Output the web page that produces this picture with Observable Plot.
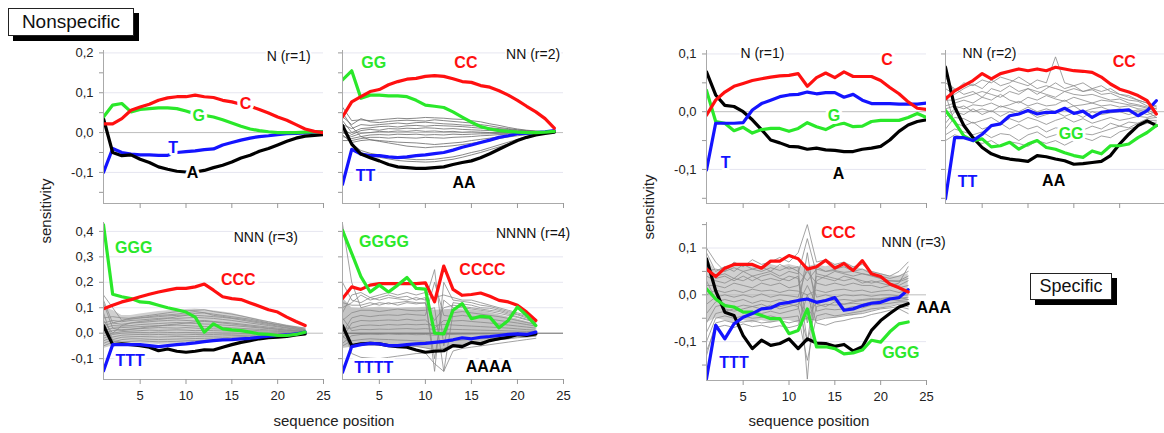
<!DOCTYPE html>
<html><head><meta charset="utf-8">
<script src="https://cdn.jsdelivr.net/npm/d3@7"></script>
<script src="https://cdn.jsdelivr.net/npm/@observablehq/plot@0.6"></script>
<style>
html,body{margin:0;padding:0;background:#fff;}
#root{position:relative;width:1164px;height:433px;overflow:hidden;background:#fff;font-family:"Liberation Sans",Arial,Helvetica,sans-serif;color:#111;}
.pl{position:absolute;}
.box{position:absolute;border:1px solid #222;background:#fff;box-shadow:5px 5px 0 #000;display:flex;align-items:center;justify-content:center;color:#111;}
.lab{position:absolute;font-size:15px;color:#222;white-space:nowrap;}
</style>
</head><body><div id="root"></div>
<script>
// ---------- DATA ----------
// Nonspecific, N (r=1), positions 1..25
const n1_A = [0.035,-0.05,-0.058,-0.056,-0.067,-0.075,-0.086,-0.092,-0.097,-0.099,-0.099,-0.095,-0.088,-0.082,-0.074,-0.064,-0.057,-0.047,-0.04,-0.031,-0.022,-0.014,-0.009,-0.007,-0.005];
const n1_C = [0.022,0.022,0.035,0.056,0.064,0.071,0.081,0.087,0.09,0.09,0.094,0.09,0.088,0.081,0.077,0.071,0.066,0.058,0.049,0.039,0.031,0.02,0.009,0.003,0.0];
const n1_G = [0.039,0.069,0.073,0.052,0.058,0.06,0.062,0.062,0.06,0.054,0.047,0.043,0.039,0.032,0.024,0.016,0.009,0.005,0.002,0.0,0.0,0.0,0.001,0.002,0.002];
const n1_T = [-0.1,-0.04,-0.05,-0.054,-0.056,-0.056,-0.057,-0.057,-0.05,-0.048,-0.046,-0.043,-0.041,-0.031,-0.025,-0.019,-0.014,-0.01,-0.008,-0.005,-0.003,-0.002,-0.001,0.001,0.002];
// Nonspecific, NN (r=2), positions 1..24
const n2_AA = [0.018,-0.029,-0.054,-0.063,-0.071,-0.08,-0.086,-0.088,-0.09,-0.09,-0.088,-0.086,-0.08,-0.075,-0.071,-0.063,-0.053,-0.042,-0.031,-0.02,-0.012,-0.006,-0.002,0.001];
const n2_CC = [0.039,0.077,0.09,0.103,0.108,0.12,0.128,0.134,0.136,0.141,0.143,0.141,0.135,0.128,0.126,0.118,0.114,0.105,0.094,0.081,0.066,0.052,0.035,0.011];
const n2_GG = [0.132,0.155,0.086,0.094,0.094,0.092,0.092,0.09,0.081,0.069,0.066,0.063,0.052,0.039,0.026,0.015,0.009,0.005,0.003,0.001,0.0,0.0,0.001,0.003];
const n2_TT = [-0.13,-0.042,-0.054,-0.058,-0.058,-0.061,-0.063,-0.061,-0.058,-0.056,-0.053,-0.05,-0.044,-0.037,-0.031,-0.025,-0.019,-0.012,-0.008,-0.003,-0.002,0.0,0.002,0.005];
const n2_other = [
 [0.064,0.03,0.032,0.03,0.032,0.034,0.036,0.035,0.036,0.038,0.037,0.036,0.034,0.033,0.03,0.027,0.022,0.018,0.013,0.009,0.006,0.004,0.002,0.001],
 [0.04,0.02,0.035,0.027,0.025,0.028,0.03,0.031,0.03,0.029,0.032,0.03,0.028,0.026,0.024,0.02,0.017,0.013,0.01,0.007,0.005,0.003,0.002,0.001],
 [0.02,0.01,0.02,0.018,0.02,0.022,0.024,0.022,0.025,0.026,0.024,0.022,0.021,0.019,0.018,0.015,0.012,0.01,0.008,0.006,0.004,0.003,0.002,0.001],
 [0.03,0.0,0.01,0.012,0.015,0.016,0.014,0.017,0.018,0.016,0.018,0.017,0.016,0.015,0.013,0.011,0.01,0.008,0.006,0.004,0.003,0.002,0.001,0.001],
 [0.01,-0.005,0.005,0.008,0.006,0.01,0.009,0.011,0.01,0.012,0.011,0.009,0.01,0.008,0.007,0.006,0.005,0.004,0.003,0.002,0.001,0.001,0.0,0.001],
 [0.0,-0.01,-0.002,0.0,0.003,0.002,0.004,0.003,0.005,0.003,0.004,0.002,0.003,0.001,0.002,0.001,0.0,0.0,0.0,0.0,0.0,0.0,0.0,0.001],
 [-0.01,-0.015,-0.01,-0.006,-0.005,-0.006,-0.004,-0.005,-0.004,-0.006,-0.005,-0.006,-0.004,-0.005,-0.004,-0.003,-0.003,-0.002,-0.002,-0.001,-0.001,0.0,0.0,0.001],
 [-0.02,-0.02,-0.015,-0.012,-0.012,-0.014,-0.012,-0.013,-0.014,-0.012,-0.013,-0.014,-0.012,-0.011,-0.01,-0.008,-0.007,-0.005,-0.004,-0.003,-0.002,-0.001,0.0,0.001],
 [0.05,0.015,-0.01,-0.018,-0.02,-0.022,-0.024,-0.025,-0.026,-0.028,-0.03,-0.028,-0.026,-0.024,-0.02,-0.017,-0.014,-0.011,-0.008,-0.005,-0.003,-0.002,-0.001,0.0],
 [0.005,-0.025,-0.02,-0.018,-0.022,-0.026,-0.03,-0.034,-0.036,-0.038,-0.036,-0.035,-0.033,-0.03,-0.027,-0.023,-0.019,-0.015,-0.011,-0.008,-0.005,-0.003,-0.001,0.0],
 [0.015,-0.03,-0.05,-0.058,-0.062,-0.066,-0.07,-0.072,-0.073,-0.074,-0.073,-0.07,-0.067,-0.062,-0.056,-0.05,-0.043,-0.036,-0.028,-0.02,-0.012,-0.006,-0.002,0.001],
 [-0.005,-0.028,-0.045,-0.052,-0.056,-0.06,-0.063,-0.066,-0.068,-0.068,-0.067,-0.064,-0.061,-0.056,-0.05,-0.045,-0.038,-0.031,-0.024,-0.017,-0.01,-0.005,-0.001,0.001]
];
// Nonspecific, NNN (r=3), positions 1..23
const n3_AAA = [0.03,-0.045,-0.042,-0.045,-0.049,-0.055,-0.069,-0.062,-0.071,-0.075,-0.071,-0.065,-0.066,-0.055,-0.045,-0.036,-0.029,-0.022,-0.018,-0.016,-0.013,-0.007,-0.003];
const n3_CCC = [0.096,0.11,0.123,0.132,0.143,0.153,0.162,0.169,0.176,0.176,0.182,0.193,0.169,0.143,0.136,0.132,0.119,0.106,0.092,0.083,0.063,0.046,0.03];
const n3_GGG = [0.426,0.153,0.143,0.136,0.123,0.12,0.11,0.1,0.092,0.083,0.063,0.004,0.037,0.017,0.013,0.01,0.004,-0.003,-0.005,-0.009,-0.009,-0.005,0.004];
const n3_TTT = [-0.148,-0.045,-0.045,-0.045,-0.045,-0.049,-0.053,-0.049,-0.045,-0.042,-0.038,-0.033,-0.029,-0.026,-0.025,-0.022,-0.02,-0.016,-0.012,-0.009,-0.007,-0.003,0.004];
const n3_bandHi = [0.1,0.09,0.07,0.07,0.075,0.08,0.085,0.088,0.09,0.093,0.095,0.092,0.088,0.083,0.078,0.07,0.062,0.054,0.046,0.038,0.032,0.026,0.02];
const n3_bandLo = [-0.06,-0.05,-0.042,-0.04,-0.04,-0.042,-0.044,-0.043,-0.042,-0.04,-0.038,-0.036,-0.034,-0.032,-0.03,-0.027,-0.024,-0.02,-0.017,-0.014,-0.012,-0.01,-0.008];
const n3_other = [
 [0.15,0.1,0.05,0.06,0.065,0.07,0.075,0.08,0.085,0.088,0.09,0.092,0.085,0.08,0.075,0.068,0.06,0.052,0.045,0.038,0.03,0.025,0.02],
 [0.13,0.04,0.05,0.055,0.06,0.065,0.07,0.072,0.075,0.08,0.085,0.08,0.075,0.07,0.065,0.06,0.055,0.048,0.04,0.034,0.028,0.022,0.016],
 [0.06,0.065,0.06,0.058,0.06,0.062,0.065,0.068,0.07,0.072,0.07,0.068,0.065,0.062,0.058,0.052,0.046,0.04,0.034,0.028,0.022,0.017,0.012],
 [0.04,0.05,0.045,0.05,0.052,0.055,0.058,0.06,0.058,0.06,0.062,0.06,0.058,0.054,0.05,0.045,0.04,0.035,0.03,0.025,0.02,0.015,0.01],
 [0.03,0.04,0.035,0.04,0.042,0.045,0.048,0.05,0.052,0.05,0.048,0.05,0.046,0.043,0.04,0.036,0.032,0.028,0.024,0.02,0.016,0.012,0.008],
 [0.02,0.03,0.028,0.03,0.034,0.036,0.038,0.04,0.042,0.04,0.038,0.036,0.035,0.032,0.03,0.027,0.024,0.021,0.018,0.015,0.012,0.01,0.008],
 [0.01,0.02,0.022,0.024,0.026,0.028,0.03,0.03,0.032,0.03,0.028,0.026,0.025,0.023,0.021,0.019,0.017,0.015,0.013,0.011,0.009,0.007,0.005],
 [0.0,0.01,0.014,0.016,0.018,0.02,0.022,0.021,0.02,0.022,0.02,0.018,0.017,0.016,0.015,0.013,0.012,0.01,0.009,0.007,0.006,0.005,0.004],
 [-0.01,0.0,0.006,0.008,0.01,0.012,0.011,0.012,0.013,0.012,0.01,0.011,0.01,0.009,0.008,0.007,0.006,0.005,0.004,0.004,0.003,0.002,0.002],
 [-0.02,-0.005,0.0,0.002,0.003,0.002,0.004,0.003,0.002,0.003,0.002,0.001,0.002,0.001,0.001,0.0,0.0,0.0,0.0,0.0,0.0,0.0,0.0],
 [-0.03,-0.015,-0.008,-0.006,-0.005,-0.006,-0.005,-0.006,-0.007,-0.006,-0.005,-0.006,-0.005,-0.004,-0.004,-0.003,-0.003,-0.002,-0.002,-0.002,-0.001,-0.001,0.0],
 [-0.04,-0.025,-0.016,-0.014,-0.013,-0.014,-0.015,-0.014,-0.013,-0.014,-0.013,-0.012,-0.012,-0.011,-0.01,-0.009,-0.008,-0.007,-0.006,-0.005,-0.004,-0.003,-0.002],
 [-0.05,-0.035,-0.025,-0.022,-0.022,-0.024,-0.025,-0.024,-0.023,-0.022,-0.021,-0.02,-0.019,-0.018,-0.016,-0.014,-0.012,-0.011,-0.009,-0.008,-0.006,-0.005,-0.004],
 [0.08,-0.03,-0.035,-0.032,-0.03,-0.032,-0.034,-0.033,-0.032,-0.03,-0.029,-0.028,-0.026,-0.024,-0.022,-0.02,-0.018,-0.015,-0.013,-0.011,-0.009,-0.007,-0.005],
 [0.05,0.0,0.03,0.04,0.046,0.05,0.054,0.058,0.065,0.07,0.078,0.08,0.07,0.066,0.06,0.056,0.05,0.044,0.038,0.032,0.026,0.02,0.014],
 [0.12,0.02,0.01,0.015,0.02,0.025,0.028,0.033,0.036,0.04,0.044,0.046,0.044,0.04,0.036,0.032,0.028,0.024,0.02,0.016,0.012,0.009,0.006]
];
// Nonspecific, NNNN (r=4), positions 1..22
const n4_AAAA = [0.03,-0.049,-0.042,-0.04,-0.042,-0.049,-0.053,-0.055,-0.066,-0.075,-0.071,-0.069,-0.049,-0.053,-0.036,-0.042,-0.029,-0.022,-0.016,-0.005,-0.009,-0.003];
const n4_CCCC = [0.136,0.182,0.172,0.189,0.195,0.195,0.195,0.195,0.195,0.198,0.123,0.264,0.172,0.149,0.152,0.158,0.145,0.129,0.123,0.11,0.083,0.05];
const n4_GGGG = [0.404,0.314,0.222,0.162,0.189,0.162,0.189,0.219,0.176,0.173,0.0,-0.003,0.09,0.116,0.057,0.066,0.063,0.021,0.05,0.103,0.07,0.03];
const n4_TTTT = [-0.154,-0.053,-0.045,-0.04,-0.042,-0.049,-0.049,-0.045,-0.042,-0.04,-0.036,-0.032,-0.026,-0.018,-0.022,-0.016,-0.013,-0.009,-0.005,-0.003,-0.005,0.004];
const n4_bandHi = [0.14,0.1,0.098,0.1,0.102,0.1,0.098,0.1,0.1,0.102,0.09,0.092,0.094,0.092,0.09,0.086,0.08,0.072,0.064,0.056,0.046,0.036];
const n4_bandLo = [-0.06,-0.055,-0.05,-0.048,-0.048,-0.05,-0.052,-0.052,-0.055,-0.06,-0.07,-0.068,-0.05,-0.048,-0.04,-0.04,-0.034,-0.03,-0.026,-0.02,-0.018,-0.015];
const n4_other = [
 [0.43,0.2,0.1,0.11,0.12,0.115,0.12,0.125,0.12,0.118,0.05,0.1,0.11,0.105,0.1,0.095,0.09,0.085,0.075,0.065,0.055,0.045],
 [0.2,0.13,0.12,0.14,0.13,0.14,0.135,0.13,0.14,0.13,0.25,-0.05,0.12,0.115,0.11,0.1,0.098,0.09,0.08,0.072,0.06,0.05],
 [0.1,0.12,0.15,0.13,0.14,0.15,0.14,0.145,0.13,0.14,-0.15,0.2,0.13,0.125,0.12,0.11,0.105,0.095,0.085,0.075,0.065,0.05],
 [0.05,0.08,0.09,0.09,0.085,0.09,0.095,0.09,0.088,0.09,0.1,-0.15,0.08,0.085,0.08,0.075,0.07,0.065,0.058,0.05,0.042,0.035],
 [0.0,0.06,0.07,0.065,0.07,0.072,0.07,0.075,0.072,0.07,0.2,0.07,0.065,0.07,0.065,0.06,0.056,0.05,0.045,0.04,0.034,0.028],
 [-0.02,0.04,0.05,0.048,0.05,0.052,0.05,0.055,0.05,0.052,0.02,0.05,0.048,0.05,0.046,0.043,0.04,0.036,0.032,0.028,0.024,0.02],
 [0.02,0.02,0.03,0.032,0.03,0.034,0.032,0.035,0.033,0.035,0.03,0.034,0.032,0.03,0.028,0.026,0.024,0.022,0.02,0.017,0.014,0.012],
 [0.06,0.01,0.015,0.014,0.016,0.015,0.017,0.018,0.016,0.018,0.015,0.016,0.015,0.014,0.013,0.012,0.011,0.01,0.009,0.008,0.007,0.006],
 [-0.04,-0.01,-0.005,-0.004,-0.005,-0.003,-0.005,-0.004,-0.006,-0.005,-0.008,-0.006,-0.005,-0.004,-0.004,-0.003,-0.003,-0.002,-0.002,-0.001,-0.001,0.0],
 [-0.05,-0.03,-0.025,-0.022,-0.024,-0.025,-0.027,-0.028,-0.03,-0.032,-0.04,-0.038,-0.03,-0.027,-0.024,-0.022,-0.02,-0.017,-0.014,-0.012,-0.01,-0.008],
 [0.03,-0.08,-0.095,-0.098,-0.1,-0.095,-0.09,-0.085,-0.08,-0.078,-0.12,-0.15,-0.07,-0.06,-0.055,-0.05,-0.045,-0.04,-0.035,-0.03,-0.025,-0.02],
 [0.08,0.15,0.16,0.14,0.15,0.16,0.15,0.16,0.15,0.16,0.14,0.15,0.14,0.13,0.13,0.12,0.11,0.1,0.09,0.08,0.07,0.055],
 [0.12,0.11,0.11,0.12,0.11,0.12,0.11,0.12,0.115,0.12,-0.1,0.13,0.1,0.1,0.095,0.09,0.085,0.078,0.07,0.062,0.052,0.042],
 [-0.01,-0.045,-0.04,-0.042,-0.045,-0.048,-0.05,-0.05,-0.052,-0.058,-0.065,-0.06,-0.045,-0.045,-0.04,-0.036,-0.03,-0.026,-0.022,-0.018,-0.015,-0.012]
];
// Specific, N (r=1), positions 1..25
const s1_A = [0.069,0.029,0.011,0.009,0.0,-0.014,-0.031,-0.049,-0.054,-0.06,-0.061,-0.065,-0.063,-0.066,-0.067,-0.069,-0.069,-0.065,-0.063,-0.06,-0.049,-0.034,-0.023,-0.017,-0.014];
const s1_C = [-0.006,0.02,0.034,0.044,0.049,0.054,0.057,0.06,0.062,0.063,0.066,0.044,0.059,0.067,0.059,0.069,0.061,0.061,0.061,0.054,0.042,0.031,0.017,0.006,0.004];
const s1_G = [0.037,-0.017,-0.02,-0.033,-0.027,-0.037,-0.031,-0.029,-0.029,-0.034,-0.029,-0.019,-0.026,-0.031,-0.023,-0.02,-0.026,-0.025,-0.017,-0.015,-0.015,-0.015,-0.01,-0.003,-0.01];
const s1_T = [-0.101,-0.02,-0.02,-0.02,-0.019,0.003,0.014,0.02,0.026,0.029,0.03,0.034,0.031,0.033,0.033,0.025,0.03,0.02,0.014,0.014,0.014,0.013,0.013,0.013,0.015];
// Specific, NN (r=2), positions 1..24
const s2_AA = [0.077,0.008,-0.024,-0.045,-0.062,-0.073,-0.079,-0.082,-0.084,-0.086,-0.076,-0.078,-0.082,-0.085,-0.091,-0.09,-0.088,-0.086,-0.076,-0.056,-0.039,-0.024,-0.016,-0.024];
const s2_CC = [0.022,0.036,0.045,0.054,0.066,0.057,0.066,0.07,0.074,0.071,0.074,0.071,0.077,0.074,0.071,0.07,0.068,0.06,0.048,0.039,0.034,0.028,0.019,-0.004];
const s2_GG = [0.002,-0.018,-0.042,-0.05,-0.047,-0.061,-0.059,-0.053,-0.065,-0.056,-0.05,-0.062,-0.065,-0.071,-0.076,-0.079,-0.068,-0.073,-0.059,-0.059,-0.056,-0.045,-0.036,-0.024];
const s2_TT = [-0.151,-0.045,-0.045,-0.05,-0.039,-0.024,-0.021,-0.007,-0.004,0.002,-0.004,-0.001,-0.001,0.006,-0.003,0.001,-0.01,-0.001,0.001,0.002,0.003,-0.007,0.002,0.019];
const s2_other = [
 [0.06,0.035,0.05,0.045,0.055,0.05,0.06,0.055,0.05,0.045,0.055,0.05,0.095,0.05,0.045,0.05,0.04,0.045,0.035,0.03,0.028,0.02,0.015,0.01],
 [0.04,0.03,0.04,0.048,0.04,0.055,0.045,0.05,0.06,0.05,0.04,0.045,0.04,0.035,0.04,0.035,0.038,0.03,0.032,0.025,0.02,0.018,0.01,0.005],
 [0.02,0.02,0.025,0.03,0.035,0.03,0.025,0.035,0.03,0.04,0.035,0.03,0.025,0.035,0.03,0.028,0.03,0.025,0.02,0.022,0.015,0.012,0.008,0.005],
 [0.01,0.015,0.02,0.015,0.025,0.02,0.03,0.02,0.015,0.025,0.02,0.028,0.022,0.018,0.025,0.02,0.015,0.02,0.018,0.015,0.012,0.01,0.006,0.0],
 [0.005,0.01,0.005,0.012,0.01,0.015,0.008,0.012,0.018,0.01,0.015,0.01,0.012,0.02,0.01,0.012,0.015,0.01,0.012,0.008,0.01,0.005,0.004,-0.005],
 [-0.01,0.005,0.01,0.0,0.005,0.0,0.01,0.005,0.0,0.008,0.0,0.005,0.0,0.005,0.01,0.0,0.005,0.008,0.002,0.005,0.0,0.003,0.0,-0.01],
 [-0.02,0.0,-0.005,0.005,-0.005,0.002,-0.008,0.0,-0.005,0.0,-0.01,-0.005,0.0,-0.008,-0.002,-0.01,0.0,-0.005,-0.002,0.0,-0.005,0.0,-0.005,0.0],
 [-0.03,-0.01,-0.012,-0.02,-0.015,-0.01,-0.02,-0.012,-0.018,-0.01,-0.015,-0.022,-0.015,-0.01,-0.018,-0.012,-0.02,-0.015,-0.01,-0.015,-0.012,-0.008,-0.01,-0.005],
 [0.03,-0.02,-0.025,-0.018,-0.03,-0.025,-0.02,-0.03,-0.022,-0.03,-0.025,-0.035,-0.028,-0.03,-0.025,-0.032,-0.025,-0.03,-0.02,-0.025,-0.018,-0.02,-0.012,-0.01],
 [-0.04,-0.03,-0.035,-0.04,-0.035,-0.045,-0.038,-0.04,-0.05,-0.04,-0.035,-0.045,-0.04,-0.035,-0.042,-0.038,-0.04,-0.035,-0.03,-0.025,-0.028,-0.02,-0.015,-0.015],
 [-0.05,-0.04,-0.045,-0.05,-0.055,-0.05,-0.06,-0.052,-0.055,-0.06,-0.05,-0.055,-0.05,-0.058,-0.05,-0.045,-0.05,-0.042,-0.045,-0.035,-0.03,-0.025,-0.02,-0.018],
 [0.05,0.04,0.03,0.035,0.025,0.04,0.035,0.045,0.035,0.04,0.03,0.04,0.05,0.04,0.045,0.035,0.04,0.035,0.04,0.03,0.025,0.02,0.015,0.008]
];
// Specific, NNN (r=3), positions 1..23
const s3_AAA = [0.077,0.009,-0.037,-0.044,-0.087,-0.115,-0.097,-0.108,-0.104,-0.094,-0.115,-0.094,-0.103,-0.104,-0.11,-0.106,-0.12,-0.111,-0.076,-0.055,-0.04,-0.026,-0.019];
const s3_CCC = [0.055,0.039,0.057,0.065,0.065,0.065,0.057,0.072,0.072,0.084,0.077,0.055,0.06,0.074,0.057,0.067,0.052,0.073,0.045,0.039,0.023,0.015,0.006];
const s3_GGG = [0.013,-0.009,-0.023,-0.026,-0.037,-0.037,-0.044,-0.051,-0.051,-0.083,-0.076,-0.03,-0.111,-0.111,-0.115,-0.126,-0.124,-0.118,-0.097,-0.101,-0.079,-0.062,-0.058];
const s3_TTT = [-0.179,-0.065,-0.094,-0.062,-0.048,-0.04,-0.03,-0.028,-0.019,-0.016,-0.012,-0.009,-0.016,-0.012,-0.006,-0.033,-0.03,-0.023,-0.018,-0.016,-0.009,-0.006,0.011];
const s3_bandHi = [0.08,0.05,0.06,0.065,0.06,0.065,0.06,0.065,0.06,0.065,0.06,0.06,0.065,0.06,0.065,0.06,0.06,0.055,0.05,0.045,0.04,0.04,0.045];
const s3_bandLo = [-0.06,-0.05,-0.055,-0.06,-0.055,-0.06,-0.055,-0.06,-0.055,-0.055,-0.06,-0.055,-0.055,-0.05,-0.05,-0.045,-0.045,-0.04,-0.035,-0.03,-0.025,-0.02,-0.02];
const s3_other = [
 [0.1,0.07,0.05,0.07,0.06,0.075,0.065,0.07,0.08,0.07,0.09,0.15,0.07,0.075,0.065,0.07,0.06,0.065,0.05,0.045,0.04,0.05,0.07],
 [0.09,0.05,0.06,0.05,0.065,0.055,0.06,0.05,0.065,0.055,0.06,-0.18,0.06,0.05,0.055,0.06,0.05,0.055,0.045,0.04,0.035,0.04,0.05],
 [0.06,0.04,0.045,0.035,0.05,0.04,0.045,0.05,0.04,0.05,0.045,0.12,0.045,0.04,0.05,0.045,0.04,0.045,0.04,0.035,0.03,0.03,0.04],
 [0.04,0.03,0.025,0.035,0.03,0.04,0.03,0.035,0.03,0.04,0.035,-0.1,0.03,0.04,0.035,0.03,0.035,0.03,0.025,0.03,0.025,0.02,0.03],
 [0.02,0.02,0.015,0.025,0.02,0.015,0.025,0.02,0.025,0.015,0.02,0.05,0.025,0.02,0.025,0.02,0.025,0.02,0.02,0.015,0.02,0.015,0.02],
 [0.0,0.01,0.005,0.01,0.005,0.012,0.008,0.01,0.005,0.01,0.008,0.0,0.01,0.005,0.01,0.012,0.008,0.01,0.005,0.008,0.01,0.005,0.01],
 [-0.02,-0.005,0.0,-0.005,0.0,-0.005,0.002,-0.005,0.0,-0.002,-0.005,0.06,-0.005,0.0,-0.005,0.0,-0.002,0.0,-0.003,0.0,0.0,-0.002,0.0],
 [-0.04,-0.015,-0.01,-0.015,-0.01,-0.018,-0.012,-0.015,-0.01,-0.015,-0.012,-0.05,-0.015,-0.01,-0.012,-0.01,-0.012,-0.01,-0.008,-0.01,-0.006,-0.008,-0.005],
 [-0.06,-0.025,-0.02,-0.028,-0.022,-0.025,-0.02,-0.028,-0.025,-0.02,-0.025,-0.1,-0.025,-0.02,-0.022,-0.02,-0.018,-0.02,-0.015,-0.012,-0.01,-0.012,-0.01],
 [-0.08,-0.04,-0.035,-0.03,-0.038,-0.035,-0.04,-0.035,-0.04,-0.035,-0.03,0.09,-0.035,-0.03,-0.032,-0.03,-0.025,-0.028,-0.022,-0.02,-0.018,-0.015,-0.015],
 [-0.1,-0.05,-0.045,-0.05,-0.045,-0.05,-0.048,-0.045,-0.05,-0.048,-0.045,-0.14,-0.045,-0.04,-0.045,-0.042,-0.038,-0.035,-0.03,-0.028,-0.025,-0.02,-0.025],
 [-0.13,-0.06,-0.055,-0.06,-0.058,-0.055,-0.06,-0.058,-0.055,-0.06,-0.055,-0.05,-0.055,-0.05,-0.048,-0.045,-0.042,-0.04,-0.035,-0.03,-0.028,-0.025,-0.03],
 [0.05,0.055,0.05,0.058,0.05,0.055,0.05,0.058,0.052,0.06,0.05,0.03,0.055,0.05,0.052,0.048,0.05,0.045,0.042,0.035,0.03,0.028,0.035],
 [0.03,-0.01,-0.03,-0.035,-0.03,-0.025,-0.03,-0.022,-0.03,-0.025,-0.02,0.02,-0.02,-0.025,-0.015,-0.02,-0.015,-0.012,-0.01,-0.008,-0.005,-0.005,-0.01],
 [0.07,0.035,0.04,0.03,0.04,0.03,0.04,0.045,0.035,0.03,0.04,-0.06,0.04,0.035,0.03,0.04,0.035,0.025,0.03,0.025,0.02,0.025,0.06],
 [-0.12,-0.07,-0.065,-0.07,-0.062,-0.068,-0.065,-0.07,-0.066,-0.07,-0.065,0.0,-0.06,-0.065,-0.058,-0.055,-0.05,-0.048,-0.042,-0.038,-0.033,-0.03,-0.04]
];
const xTicks = [5, 10, 15, 20, 25];

// ---------- STYLE ----------
const RED = "#ff1010", GREEN = "#2ae82a", BLUE = "#1414ff", BLACK = "#000";
const FONT = "'Liberation Sans', Arial, Helvetica, sans-serif";
const fmt = d => d.toFixed(1).replace(".", ",").replace("-0,0", "0,0");

const root = document.getElementById("root");
const rows = (arr, k) => arr.map((v, i) => ({p: i + 1, v, k}));

function panel(cfg) {
  const mL = 50, mR = 60, mT = 8, mB = 30;
  const W = cfg.right - cfg.left + mL + mR;
  const H = cfg.bottom - cfg.top + mT + mB;
  const [y0, y1] = cfg.ydom;
  const marks = [];
  marks.push(Plot.ruleY(cfg.grid, {stroke: "#e6e6f0", strokeWidth: 1}));
  if (cfg.band) {
    const b = cfg.band[0].map((h, i) => ({p: i + 1, hi: h, lo: cfg.band[1][i]}));
    marks.push(Plot.areaY(b, {x: "p", y1: "lo", y2: "hi", fill: cfg.bandColor || "#d0d0d0"}));
  }
  marks.push(Plot.ruleY([0], {stroke: cfg.zero || "#bdbdbd", strokeWidth: 1}));
  if (cfg.greys) {
    marks.push(Plot.line(cfg.greys.flatMap((g, k) => rows(g, k)),
      {x: "p", y: "v", z: "k", stroke: cfg.greyColor, strokeWidth: 0.8, clip: "frame"}));
  }
  for (const s of cfg.series) {
    marks.push(Plot.line(rows(s[0], 0), {x: "p", y: "v", stroke: s[1], strokeWidth: 3.2, strokeLinejoin: "round", clip: "frame"}));
  }
  // axes lines
  marks.push(Plot.ruleX([1], {stroke: "#aaa"}));
  marks.push(Plot.ruleY([y0], {stroke: "#aaa"}));
  marks.push(Plot.axisY(cfg.major, {tickSize: 4, tickPadding: 6, stroke: "#999", fill: "#222", fontSize: 13,
    tickFormat: cfg.ylab ? fmt : (() => ""), label: null}));
  if (cfg.minor) marks.push(Plot.axisY(cfg.minor, {tickSize: 4, stroke: "#999", tickFormat: () => "", label: null}));
  marks.push(Plot.axisX(xTicks, {tickSize: 5, tickPadding: 6, stroke: "#999", fill: "#222", fontSize: 13,
    tickFormat: cfg.xlab ? (d => String(d)) : (() => ""), label: null}));
  // title
  marks.push(Plot.text([cfg.title[0]], {x: cfg.title[1], y: cfg.title[2], text: d => d, fontSize: 14, fill: "#111", stroke: "white", strokeWidth: 4}));
  for (const l of cfg.labels) {
    marks.push(Plot.text([l[0]], {x: l[1], y: l[2], text: d => d, fill: l[3], fontSize: 16, fontWeight: "bold", stroke: "white", strokeWidth: 6}));
  }
  const svg = Plot.plot({
    width: W, height: H, marginLeft: mL, marginRight: mR, marginTop: mT, marginBottom: mB,
    x: {domain: [1, 25]}, y: {domain: [y0, y1]},
    style: {fontFamily: FONT, background: "transparent", overflow: "visible"},
    marks
  });
  svg.classList.add("pl");
  svg.style.left = (cfg.left - mL) + "px";
  svg.style.top = (cfg.top - mT) + "px";
  root.appendChild(svg);
}

const topNon = {ydom: [-0.178, 0.206], grid: [-0.1, 0.1, 0.2], major: [-0.1, 0, 0.1, 0.2], minor: [-0.15, -0.05, 0.05, 0.15], top: 50, bottom: 203};
const botNon = {ydom: [-0.182, 0.435], grid: [-0.1, 0.1, 0.2, 0.3, 0.4], major: [-0.1, 0, 0.1, 0.2, 0.3, 0.4], top: 222, bottom: 379};
const topSp = {ydom: [-0.159, 0.106], grid: [-0.1, 0.1], major: [-0.1, 0, 0.1], minor: [-0.15, -0.05, 0.05], top: 50, bottom: 203};
const botSp = {ydom: [-0.183, 0.1545], grid: [-0.1, 0.1], major: [-0.1, 0, 0.1], minor: [-0.15, -0.05, 0.05, 0.15], top: 222, bottom: 380};

panel({...topNon, left: 103, right: 323, xlab: false, ylab: true,
  series: [[n1_T, BLUE], [n1_A, BLACK], [n1_G, GREEN], [n1_C, RED]],
  title: ["N (r=1)", 21.2, 0.19],
  labels: [["C", 16.5, 0.073, RED], ["G", 11.4, 0.043, GREEN], ["T", 8.6, -0.038, BLUE], ["A", 10.7, -0.1, BLACK]]});
panel({...topNon, left: 342, right: 563, xlab: false, ylab: false, greys: n2_other, greyColor: "#6a6a6a",
  series: [[n2_TT, BLUE], [n2_AA, BLACK], [n2_GG, GREEN], [n2_CC, RED]],
  title: ["NN (r=2)", 21.7, 0.197],
  labels: [["GG", 4.4, 0.176, GREEN], ["CC", 14.4, 0.176, RED], ["TT", 3.5, -0.108, BLUE], ["AA", 14.2, -0.126, BLACK]]});
panel({...botNon, left: 103, right: 323, xlab: true, ylab: true, greys: n3_other, greyColor: "#8c8c8c", band: [n3_bandHi, n3_bandLo],
  series: [[n3_AAA, BLACK], [n3_TTT, BLUE], [n3_GGG, GREEN], [n3_CCC, RED]],
  title: ["NNN (r=3)", 18.7, 0.376],
  labels: [["GGG", 4.3, 0.336, GREEN], ["CCC", 15.7, 0.211, RED], ["TTT", 3.9, -0.107, BLUE], ["AAA", 16.8, -0.099, BLACK]]});
panel({...botNon, left: 342, right: 563, xlab: true, ylab: false, greys: n4_other, greyColor: "#8a8a8a", band: [n4_bandHi, n4_bandLo], bandColor: "#c4c4c4", zero: "#666",
  series: [[n4_AAAA, BLACK], [n4_TTTT, BLUE], [n4_CCCC, RED], [n4_GGGG, GREEN]],
  title: ["NNNN (r=4)", 21.7, 0.391],
  labels: [["GGGG", 5.5, 0.36, GREEN], ["CCCC", 16.2, 0.25, RED], ["TTTT", 4.4, -0.135, BLUE], ["AAAA", 16.9, -0.131, BLACK]]});
panel({...topSp, left: 706, right: 926, xlab: false, ylab: true,
  series: [[s1_A, BLACK], [s1_G, GREEN], [s1_T, BLUE], [s1_C, RED]],
  title: ["N (r=1)", 7.1, 0.1],
  labels: [["C", 20.7, 0.089, RED], ["G", 14.9, -0.008, GREEN], ["T", 3.1, -0.088, BLUE], ["A", 15.4, -0.107, BLACK]]});
panel({...topSp, left: 945, right: 1165, xlab: false, ylab: false, greys: s2_other, greyColor: "#8a8a8a",
  series: [[s2_AA, BLACK], [s2_GG, GREEN], [s2_TT, BLUE], [s2_CC, RED]],
  title: ["NN (r=2)", 5.8, 0.1],
  labels: [["CC", 20.5, 0.087, RED], ["GG", 14.7, -0.039, GREEN], ["TT", 3.4, -0.122, BLUE], ["AA", 12.8, -0.119, BLACK]]});
panel({...botSp, left: 706, right: 926, xlab: true, ylab: true, greys: s3_other, greyColor: "#8c8c8c", band: [s3_bandHi, s3_bandLo],
  series: [[s3_AAA, BLACK], [s3_GGG, GREEN], [s3_TTT, BLUE], [s3_CCC, RED]],
  title: ["NNN (r=3)", 23.6, 0.112],
  labels: [["CCC", 15.4, 0.133, RED], ["AAA", 25.8, -0.027, BLACK], ["GGG", 22.2, -0.125, GREEN], ["TTT", 4.0, -0.145, BLUE]]});

// ---------- HTML LABELS ----------
function addDiv(cls, text, css) {
  const d = document.createElement("div");
  d.className = cls; d.textContent = text;
  Object.assign(d.style, css);
  root.appendChild(d);
}
addDiv("box", "Nonspecific", {left: "8px", top: "8px", width: "124px", height: "26px", fontSize: "19px"});
addDiv("box", "Specific", {left: "1030px", top: "273px", width: "80px", height: "25px", fontSize: "18px"});
addDiv("lab", "sequence position", {left: "334px", top: "420px", transform: "translate(-50%,-50%)"});
addDiv("lab", "sequence position", {left: "809px", top: "420px", transform: "translate(-50%,-50%)"});
addDiv("lab", "sensitivity", {left: "45px", top: "211px", transform: "translate(-50%,-50%) rotate(-90deg)"});
addDiv("lab", "sensitivity", {left: "648px", top: "207px", transform: "translate(-50%,-50%) rotate(-90deg)"});
</script>
</body></html>
